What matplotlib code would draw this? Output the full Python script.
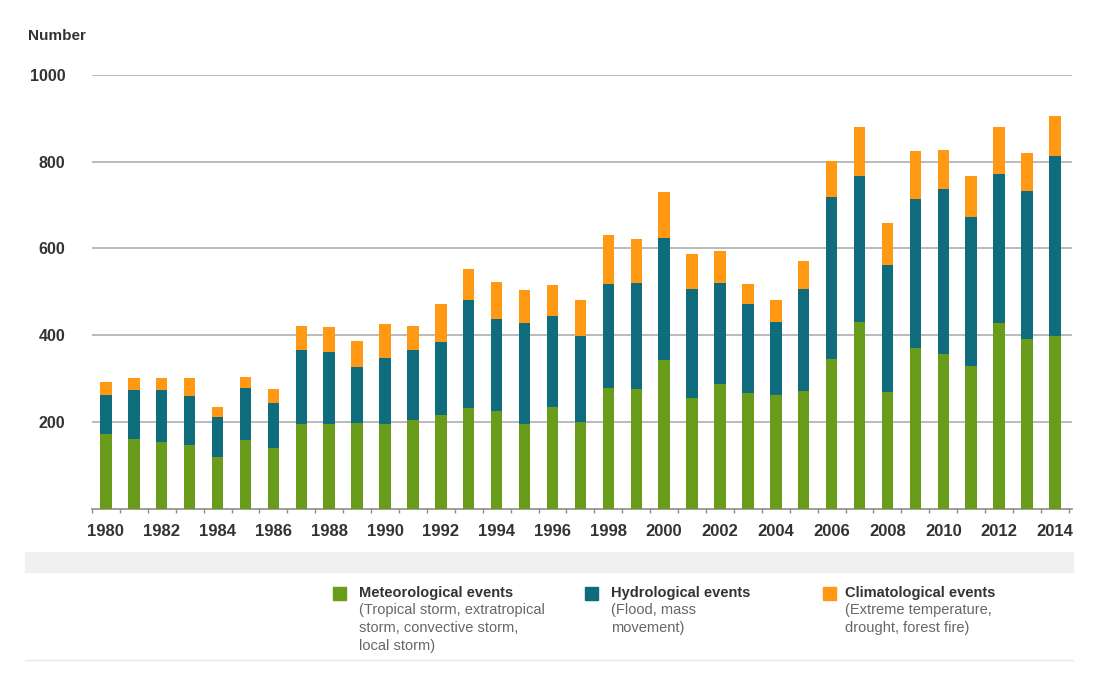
import numpy as np
import matplotlib.pyplot as plt
from matplotlib.patches import Rectangle

plt.rcParams['font.family'] = ['Liberation Sans', 'DejaVu Sans']

years = list(range(1980, 2015))
meteorological = [173, 161, 154, 147, 120, 158, 139, 196, 194, 198,
                  194, 204, 216, 233, 225, 194, 234, 200, 279, 275,
                  342, 256, 288, 267, 262, 271, 346, 431, 269, 371,
                  356, 329, 427, 391, 398]
hydrological = [89, 112, 119, 113, 92, 119, 105, 169, 168, 129,
                154, 161, 169, 248, 212, 233, 211, 198, 239, 246,
                282, 250, 232, 205, 169, 235, 372, 335, 293, 343,
                380, 343, 345, 341, 416]
climatological = [31, 29, 27, 40, 22, 27, 31, 55, 57, 60,
                  77, 55, 87, 71, 85, 77, 70, 83, 113, 101,
                  107, 82, 75, 46, 50, 66, 83, 115, 96, 110,
                  92, 94, 109, 87, 92]

series_names = ["Meteorological events", "Hydrological events", "Climatological events"]
series_notes = ["(Tropical storm, extratropical\nstorm, convective storm,\nlocal storm)",
                "(Flood, mass\nmovement)",
                "(Extreme temperature,\ndrought, forest fire)"]
colors = ["#6a9c1c", "#0e6c7d", "#ff9812"]

fig = plt.figure(figsize=(10.98, 6.86), dpi=100)
ax = fig.add_axes([0.0835, 0.2587, 0.8925, 0.632])

x = np.array(years)
met = np.array(meteorological)
hyd = np.array(hydrological)
cli = np.array(climatological)
w = 0.41
ax.bar(x, met, width=w, color=colors[0], zorder=3)
ax.bar(x, hyd, width=w, bottom=met, color=colors[1], zorder=3)
ax.bar(x, cli, width=w, bottom=met + hyd, color=colors[2], zorder=3)

ax.set_xlim(1979.49, 2014.6)
ax.set_ylim(0, 1000)
ax.set_yticks([200, 400, 600, 800, 1000])
ax.yaxis.grid(True, color="#b4b4b4", linewidth=1.3, zorder=0)
ax.set_axisbelow(True)
for s in ["left", "right", "top"]:
    ax.spines[s].set_visible(False)
ax.spines["bottom"].set_color("#8c8c8c")
ax.spines["bottom"].set_linewidth(1.2)

ax.set_xticks(years[::2])
ax.set_xticks(np.arange(1979.5, 2015, 1.0), minor=True)
ax.tick_params(axis="x", which="major", length=0, pad=11, labelsize=12,
               labelcolor="#333333")
ax.tick_params(axis="x", which="minor", length=3, color="#8c8c8c", width=1)
ax.tick_params(axis="y", length=0, pad=19, labelsize=11.5, labelcolor="#333333")
for lab in ax.get_xticklabels() + ax.get_yticklabels():
    lab.set_fontweight("bold")

fig.text(0.0255, 0.947, "Number", fontsize=11, fontweight="bold",
         color="#333333", va="center", ha="left")

# grey band under the axis and thin rule below the legend
fig.patches.append(Rectangle((25 / 1098, 1 - 572 / 686), 1048 / 1098, 20 / 686,
                             transform=fig.transFigure, color="#f0f0f0", zorder=0))
fig.add_artist(plt.Line2D([25 / 1098, 1073 / 1098], [1 - 659.5 / 686] * 2,
                          transform=fig.transFigure, color="#e8e8e8", linewidth=1))

# legend
sq_x = [333, 585, 823]
txt_x = [359, 611, 845]
for i in range(3):
    fig.patches.append(Rectangle((sq_x[i] / 1098, 1 - 599.5 / 686), 13 / 1098, 13 / 686,
                                 transform=fig.transFigure, color=colors[i]))
    fig.text(txt_x[i] / 1098, 1 - 592.5 / 686, series_names[i], fontsize=10.5,
             fontweight="bold", color="#333333", va="center", ha="left")
    fig.text(txt_x[i] / 1098, 1 - 603 / 686, series_notes[i], fontsize=10.5,
             color="#666666", va="top", ha="left", linespacing=1.38)

fig.savefig("out.png", dpi=100, facecolor="white")
